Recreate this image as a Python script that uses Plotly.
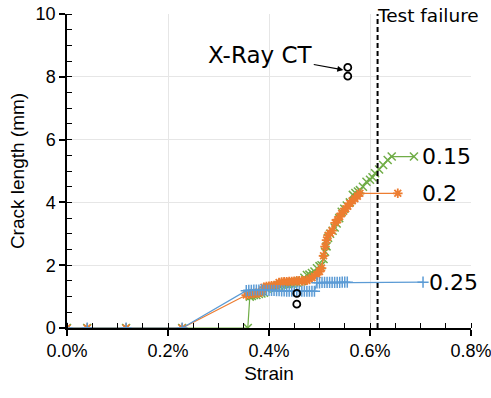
import plotly.graph_objects as go

# Strain (%) and crack length (mm) for each series
strain_025 = [0, 0.04, 0.117, 0.228, 0.355, 0.36, 0.365, 0.37, 0.375, 0.38, 0.385, 0.39,
              0.395, 0.40, 0.405, 0.41, 0.415, 0.42, 0.425, 0.43, 0.435, 0.44, 0.445, 0.45,
              0.455, 0.46, 0.465, 0.47, 0.475, 0.48, 0.485, 0.49, 0.495, 0.50, 0.505, 0.51,
              0.515, 0.52, 0.525, 0.53, 0.535, 0.54, 0.545, 0.55, 0.555, 0.705]
crack_025 = [0, 0, 0, 0, 1.19, 1.2, 1.2, 1.21, 1.21, 1.21, 1.22, 1.2,
             1.2, 1.2, 1.2, 1.2, 1.19, 1.19, 1.18, 1.18, 1.17, 1.17, 1.17, 1.17,
             1.17, 1.17, 1.17, 1.17, 1.17, 1.17, 1.17, 1.17, 1.44, 1.44, 1.45, 1.45,
             1.45, 1.45, 1.45, 1.45, 1.45, 1.45, 1.46, 1.46, 1.46, 1.46]

strain_02 = [0, 0.04, 0.117, 0.228, 0.355, 0.36, 0.365, 0.37, 0.375, 0.38, 0.385, 0.39,
             0.395, 0.40, 0.405, 0.41, 0.415, 0.42, 0.425, 0.43, 0.435, 0.44, 0.445, 0.45,
             0.455, 0.46, 0.465, 0.47, 0.475, 0.48, 0.485, 0.49, 0.495, 0.50, 0.504, 0.508,
             0.511, 0.514, 0.517, 0.521, 0.525, 0.531, 0.536, 0.540, 0.544, 0.548, 0.552,
             0.556, 0.560, 0.565, 0.570, 0.575, 0.580, 0.655]
crack_02 = [0, 0, 0, 0, 1.05, 1.08, 1.1, 1.1, 1.12, 1.12, 1.15, 1.3,
            1.32, 1.33, 1.34, 1.35, 1.36, 1.45, 1.46, 1.47, 1.47, 1.48, 1.48, 1.49,
            1.5, 1.5, 1.5, 1.5, 1.52, 1.55, 1.6, 1.65, 1.7, 1.8, 1.91, 2.3,
            2.59, 2.8, 2.95, 3.02, 3.1, 3.35, 3.45, 3.55, 3.65, 3.72, 3.8,
            3.88, 3.97, 4.05, 4.12, 4.2, 4.29, 4.29]

strain_015 = [0, 0.04, 0.117, 0.228, 0.358, 0.362, 0.366, 0.37, 0.375, 0.38, 0.385, 0.39,
              0.395, 0.40, 0.405, 0.41, 0.415, 0.42, 0.425, 0.43, 0.435, 0.44, 0.445, 0.45,
              0.455, 0.46, 0.465, 0.47, 0.475, 0.48, 0.485, 0.49, 0.495, 0.50, 0.504, 0.508,
              0.511, 0.514, 0.517, 0.521, 0.526, 0.530, 0.534, 0.539, 0.544, 0.549, 0.554,
              0.560, 0.566, 0.571, 0.576, 0.580, 0.586, 0.593, 0.600, 0.605, 0.610, 0.618,
              0.626, 0.635, 0.643, 0.687]
crack_015 = [0, 0, 0, 0, 0, 1.0, 1.02, 1.05, 1.05, 1.08, 1.1, 1.12,
             1.25, 1.28, 1.3, 1.3, 1.32, 1.35, 1.38, 1.4, 1.4, 1.42, 1.42, 1.45,
             1.45, 1.48, 1.5, 1.6, 1.69, 1.7, 1.75, 1.8, 1.9, 1.97, 2.0, 2.2,
             2.43, 2.6, 2.87, 3.0, 3.1, 3.2, 3.33, 3.5, 3.7, 3.8, 3.9,
             4.0, 4.24, 4.3, 4.35, 4.39, 4.5, 4.66, 4.72, 4.8, 4.93, 5.05,
             5.19, 5.35, 5.46, 5.46]

# X-ray CT measurements
ct_strain = [0.556, 0.556, 0.455, 0.455]
ct_crack = [8.3, 8.02, 1.1, 0.76]

failure_strain = 0.615

series_labels = ["0.15", "0.2", "0.25"]
BLUE, ORANGE, GREEN = "#5B9BD5", "#ED7D31", "#70AD47"

fig = go.Figure()

fig.add_trace(go.Scatter(
    x=strain_015, y=crack_015, mode="lines+markers", name=series_labels[0],
    line=dict(color=GREEN, width=1.2),
    marker=dict(symbol="x-thin-open", size=8, color=GREEN, line=dict(color=GREEN, width=1.5)),
))
fig.add_trace(go.Scatter(
    x=strain_02, y=crack_02, mode="lines+markers", name=series_labels[1],
    line=dict(color=ORANGE, width=1.2),
    marker=dict(symbol="asterisk-open", size=8, color=ORANGE, line=dict(color=ORANGE, width=1.8)),
))
fig.add_trace(go.Scatter(
    x=strain_025, y=crack_025, mode="lines+markers", name=series_labels[2],
    line=dict(color=BLUE, width=1.2),
    marker=dict(symbol="cross-thin-open", size=8, color=BLUE, line=dict(color=BLUE, width=1.5)),
))
fig.add_trace(go.Scatter(
    x=ct_strain, y=ct_crack, mode="markers", name="X-Ray CT",
    marker=dict(symbol="circle-open", size=7, color="black", line=dict(color="black", width=1.8)),
))

# Test failure line
fig.add_shape(type="line", x0=failure_strain, x1=failure_strain, y0=0, y1=10,
              xref="x", yref="y", line=dict(color="black", width=2, dash="5px,3px"))

fig.add_annotation(x=failure_strain, y=1, xref="x", yref="paper", text="Test failure",
                   showarrow=False, xanchor="left", yanchor="middle", xshift=-3, yshift=-1,
                   font=dict(family="DejaVu Sans", size=18.5, color="black"))
fig.add_annotation(x=0.553, y=8.2, xref="x", yref="y", text="X-Ray CT",
                   showarrow=True, arrowhead=2, arrowsize=1, arrowwidth=1.2,
                   arrowcolor="black", ax=-86, ay=-16, standoff=3,
                   font=dict(family="DejaVu Sans", size=23, color="black"))

end_labels = [
    (series_labels[0], strain_015[-1], crack_015[-1], 6),
    (series_labels[1], strain_02[-1], crack_02[-1], 22),
    (series_labels[2], strain_025[-1], crack_025[-1], 4),
]
for txt, sx, cy, shift in end_labels:
    fig.add_annotation(x=sx, y=cy, xref="x", yref="y", text=txt, showarrow=False,
                       xanchor="left", yanchor="middle", xshift=shift,
                       font=dict(family="DejaVu Sans", size=22, color="black"))

tick_font = dict(family="Liberation Sans", size=18, color="black")
title_font = dict(family="Liberation Sans", size=19, color="black")
fig.update_xaxes(
    range=[0, 0.8], tickvals=[0, 0.2, 0.4, 0.6, 0.8],
    ticktext=["0.0%", "0.2%", "0.4%", "0.6%", "0.8%"],
    showline=True, linecolor="black", linewidth=1.5,
    ticks="outside", ticklen=6, tickwidth=1.5, tickcolor="black",
    minor=dict(dtick=0.05, ticks="inside", ticklen=5, tickwidth=1, tickcolor="black", showgrid=False),
    showgrid=True, gridcolor="#e6e6e6", gridwidth=1, zeroline=False,
    tickfont=tick_font, automargin=False, ticklabeloverflow="allow",
    title=dict(text="Strain", font=title_font, standoff=6),
)
fig.update_yaxes(
    range=[0, 10], tickvals=[0, 2, 4, 6, 8, 10],
    showline=True, linecolor="black", linewidth=1.5,
    ticks="outside", ticklen=6, tickwidth=1.5, tickcolor="black",
    minor=dict(dtick=0.5, ticks="inside", ticklen=5, tickwidth=1, tickcolor="black", showgrid=False),
    showgrid=True, gridcolor="#e6e6e6", gridwidth=1, zeroline=False,
    tickfont=tick_font, automargin=False, ticklabeloverflow="allow",
    title=dict(text="Crack length (mm)", font=title_font, standoff=6),
)

fig.update_layout(
    width=491, height=398,
    margin=dict(l=67, r=20, t=14, b=70),
    plot_bgcolor="white", paper_bgcolor="white",
    showlegend=False,
)

fig.write_html("out.html")
